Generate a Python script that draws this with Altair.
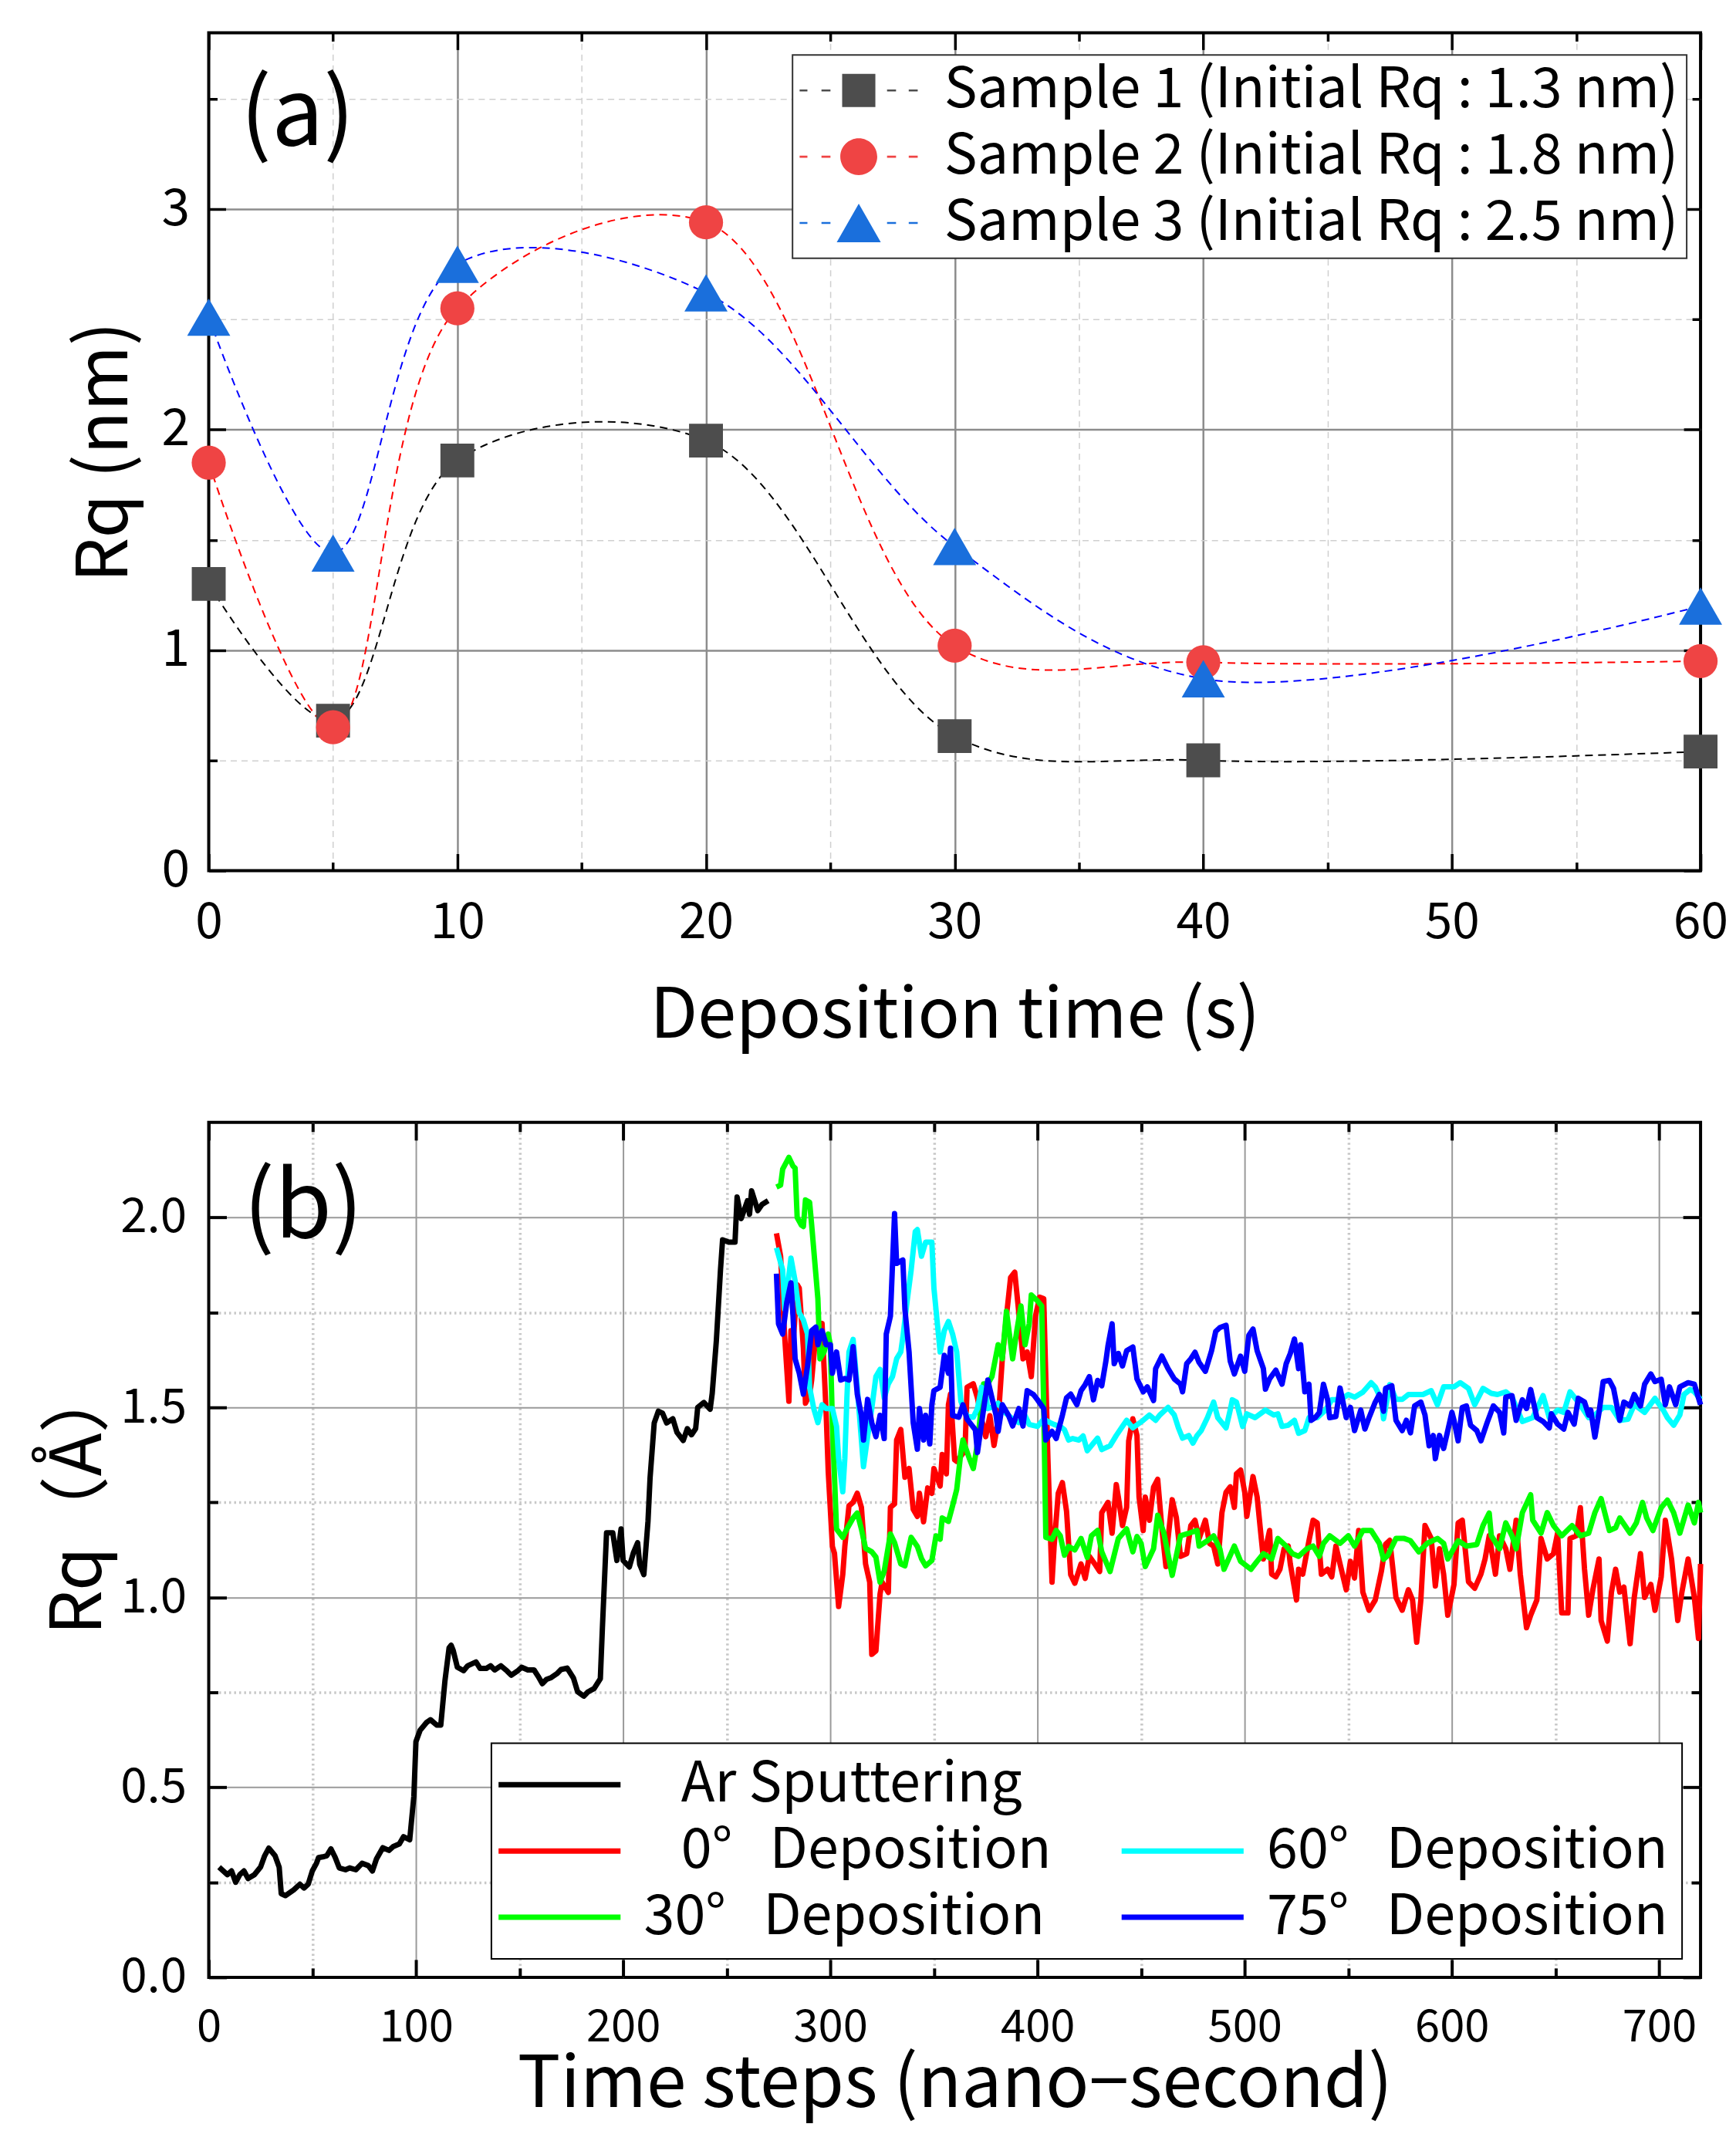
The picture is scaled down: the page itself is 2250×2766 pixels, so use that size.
import altair as alt
import pandas as pd

FONT = "Noto Sans CJK JP"

# ===================== Panel (a) data =====================
deposition_time = [0, 5, 10, 20, 30, 40, 60]
rq_sample1 = [1.30, 0.68, 1.86, 1.95, 0.61, 0.50, 0.54]
rq_sample2 = [1.85, 0.65, 2.55, 2.94, 1.02, 0.945, 0.95]
rq_sample3 = [2.51, 1.44, 2.75, 2.62, 1.47, 0.87, 1.20]
sample_names = [
    "Sample 1 (Initial Rq : 1.3 nm)",
    "Sample 2 (Initial Rq : 1.8 nm)",
    "Sample 3 (Initial Rq : 2.5 nm)",
]
line_colors_a = ["#000000", "#ff0000", "#0000ff"]
marker_colors_a = ["#4d4d4d", "#ef4444", "#1a6fdc"]
marker_shapes_a = ["square", "circle", "triangle-up"]
marker_sizes_a = [1936, 1963, 3136]

x_major_a = [0, 10, 20, 30, 40, 50, 60]
x_minor_a = [5, 15, 25, 35, 45, 55]
y_major_a = [0, 1, 2, 3]
y_minor_a = [0.5, 1.5, 2.5, 3.5]

# ===================== Panel (b) data =====================
ar_sputtering = [(5,0.29),(9,0.27),(11,0.28),(13,0.25),(15,0.27),(17,0.28),(19,0.26),(22,0.27),(25,0.29),(27,0.32),
    (29,0.34),(32,0.32),(34,0.29),(35,0.22),(37,0.215),(41,0.23),(44,0.245),(46,0.235),(48,0.245),(50,0.28),
    (52,0.30),(53,0.315),(55,0.317),(57,0.32),(59,0.338),(61,0.316),(63,0.288),(66,0.283),(68,0.288),(71,0.283),
    (74,0.30),(77,0.294),(79,0.28),(81,0.312),(84,0.341),(87,0.334),(89,0.344),(92,0.351),(94,0.37),(97,0.362),
    (99,0.476),(100,0.62),(102,0.65),(105,0.67),(107,0.678),(110,0.664),(112,0.664),(114,0.78),(116,0.867),(117,0.874),
    (118,0.86),(120,0.816),(123,0.807),(125,0.82),(129,0.83),(131,0.813),(134,0.813),(136,0.82),(138,0.809),(141,0.82),
    (144,0.806),(146,0.795),(149,0.806),(151,0.816),(154,0.809),(157,0.809),(159,0.792),(161,0.773),(163,0.784),(165,0.788),
    (168,0.799),(170,0.81),(173,0.814),(176,0.788),(178,0.752),(181,0.74),(183,0.751),(186,0.76),(189,0.786),(190,0.92),
    (192,1.17),(195,1.17),(197,1.097),(199,1.18),(200,1.097),(203,1.08),(205,1.118),(207,1.144),(208,1.087),(210,1.06),
    (212,1.2),(213,1.314),(215,1.459),(217,1.49),(219,1.485),(221,1.459),(224,1.47),(226,1.434),(229,1.413),(231,1.444),
    (233,1.428),(235,1.444),(236,1.5),(239,1.513),(242,1.495),(243,1.537),(245,1.676),(247,1.863),(248,1.941),(251,1.935),
    (254,1.935),(255,2.054),(257,1.997),(260,2.044),(261,2.008),(262,2.07),(265,2.018),(267,2.034),(270,2.044)]

dep_0deg = [(274,1.958),(276,1.898),(278,1.684),(280,1.516),(281,1.702),(282,1.665),(284,1.823),(285,1.814),(287,1.656),(288,1.511),
    (290,1.534),(291,1.572),(293,1.693),(294,1.656),(296,1.721),(298,1.483),(299,1.33),(301,1.134),(302,1.116),(304,0.976),
    (306,1.06),(307,1.134),(309,1.241),(311,1.25),(313,1.274),(315,1.237),(317,1.088),(319,1.04),(320,0.85),(322,0.859),
    (324,1.009),(325,1.04),(328,1.013),(329,1.237),(331,1.246),(332,1.414),(334,1.442),(336,1.316),(338,1.339),(340,1.232),
    (342,1.213),(343,1.274),(345,1.199),(347,1.288),(349,1.274),(350,1.339),(353,1.293),(354,1.376),(356,1.325),(357,1.507),
    (358,1.535),(360,1.362),(361,1.358),(365,1.386),(366,1.553),(369,1.562),(371,1.525),(373,1.469),(375,1.423),(377,1.478),
    (379,1.4),(381,1.465),(383,1.628),(385,1.74),(387,1.842),(389,1.856),(391,1.748),(393,1.628),(395,1.646),(397,1.581),
    (399,1.74),(401,1.79),(403,1.786),(405,1.367),(407,1.04),(408,1.134),(410,1.274),(412,1.302),(414,1.227),(416,1.06),
    (418,1.037),(421,1.088),(423,1.05),(425,1.108),(428,1.085),(430,1.068),(431,1.223),(434,1.25),(436,1.169),(438,1.297),
    (439,1.264),(441,1.189),(443,1.237),(444,1.412),(446,1.47),(448,1.426),(449,1.264),(451,1.176),(452,1.264),(454,1.203),
    (456,1.29),(458,1.311),(460,1.182),(462,1.081),(463,1.155),(465,1.257),(467,1.21),(469,1.108),(472,1.115),(474,1.189),
    (476,1.203),(478,1.155),(481,1.203),(483,1.142),(485,1.135),(487,1.088),(489,1.223),(491,1.277),(493,1.291),(495,1.237),
    (496,1.325),(498,1.335),(500,1.277),(501,1.213),(504,1.318),(506,1.264),(508,1.155),(509,1.101),(512,1.176),(513,1.061),
    (515,1.054),(517,1.074),(519,1.128),(521,1.135),(522,1.088),(525,0.993),(526,1.074),(528,1.061),(531,1.149),(533,1.203),
    (535,1.196),(537,1.061),(540,1.074),(542,1.054),(544,1.135),(546,1.088),(549,1.02),(551,1.095),(553,1.051),(555,1.176),
    (557,1.014),(560,0.966),(563,0.993),(566,1.07),(568,1.14),(570,1.15),(573,1.0),(576,0.966),(579,1.02),(581,0.993),
    (583,0.882),(585,0.993),(587,1.189),(590,1.155),(592,1.03),(594,1.128),(596,1.061),(598,0.953),(601,1.034),(603,1.196),
    (605,1.203),(608,1.041),(611,1.024),(614,1.061),(616,1.101),(618,1.162),(621,1.061),(623,1.162),(626,1.128),(628,1.074),
    (631,1.203),(633,1.061),(636,0.92),(638,0.953),(641,0.993),(643,1.155),(646,1.101),(649,1.115),(651,1.169),(653,0.959),
    (656,0.959),(657,1.155),(660,1.162),(662,1.236),(664,1.074),(666,0.953),(668,1.02),(671,1.101),(672,0.939),(675,0.885),
    (677,1.014),(679,1.074),(681,1.014),(683,1.027),(686,0.878),(688,1.0),(691,1.115),(693,1.0),(696,1.034),(698,0.966),
    (701,1.054),(703,1.203),(706,1.101),(709,0.939),(711,1.014),(714,1.101),(717,1.0),(719,0.892),(720,1.088)]

dep_30deg = [(274,2.08),(276,2.085),(277,2.127),(280,2.158),(282,2.135),(283,2.13),(284,2.0),(286,1.98),(287,1.976),(288,2.046),
    (290,2.04),(291,1.98),(293,1.851),(294,1.786),(295,1.628),(297,1.646),(299,1.693),(300,1.665),(301,1.46),(303,1.18),
    (306,1.158),(308,1.18),(311,1.209),(313,1.222),(315,1.18),(317,1.129),(320,1.12),(322,1.106),(324,1.04),(326,1.069),
    (329,1.167),(331,1.144),(334,1.088),(336,1.083),(339,1.158),(342,1.134),(344,1.102),(346,1.083),(349,1.097),(351,1.162),
    (353,1.153),(354,1.209),(357,1.2),(359,1.241),(361,1.284),(363,1.381),(364,1.414),(367,1.367),(369,1.339),(371,1.404),
    (374,1.562),(376,1.562),(378,1.581),(381,1.665),(383,1.628),(385,1.753),(388,1.628),(390,1.702),(392,1.767),(394,1.665),
    (396,1.72),(397,1.796),(400,1.78),(402,1.767),(403,1.5),(404,1.158),(407,1.153),(409,1.176),(411,1.162),(413,1.111),
    (415,1.134),(418,1.125),(421,1.155),(424,1.105),(426,1.162),(429,1.176),(431,1.12),(435,1.068),(439,1.155),(443,1.18),
    (446,1.12),(448,1.16),(450,1.142),(452,1.081),(456,1.128),(458,1.216),(461,1.169),(465,1.058),(469,1.162),(473,1.169),
    (477,1.176),(478,1.135),(482,1.149),(485,1.162),(488,1.128),(490,1.074),(495,1.135),(498,1.095),(503,1.074),(506,1.095),
    (509,1.115),(513,1.101),(516,1.155),(520,1.135),(523,1.115),(526,1.108),(530,1.128),(533,1.135),(536,1.108),(538,1.142),
    (541,1.162),(546,1.142),(550,1.162),(553,1.135),(557,1.176),(561,1.176),(565,1.142),(567,1.1),(569,1.11),(573,1.155),
    (577,1.155),(580,1.149),(584,1.12),(588,1.142),(593,1.155),(596,1.142),(598,1.101),(603,1.149),(607,1.135),(612,1.139),
    (615,1.189),(618,1.222),(619,1.162),(623,1.128),(626,1.196),(629,1.162),(631,1.128),(634,1.223),(638,1.27),(639,1.203),
    (643,1.169),(646,1.223),(649,1.189),(653,1.162),(658,1.189),(662,1.162),(666,1.169),(669,1.223),(672,1.26),(676,1.176),
    (679,1.183),(681,1.209),(686,1.169),(689,1.196),(692,1.25),(694,1.209),(697,1.176),(701,1.236),(704,1.256),(707,1.223),
    (710,1.169),(714,1.243),(717,1.196),(719,1.25),(720,1.223)]

dep_60deg = [(274,1.92),(277,1.862),(278,1.758),(281,1.893),(283,1.833),(285,1.749),(287,1.73),(289,1.693),(290,1.553),(292,1.497),
    (294,1.46),(296,1.507),(298,1.497),(301,1.497),(303,1.45),(304,1.366),(306,1.278),(307,1.366),(308,1.525),(309,1.646),
    (311,1.679),(313,1.553),(315,1.414),(316,1.344),(318,1.423),(320,1.497),(322,1.581),(324,1.6),(326,1.525),(328,1.562),
    (330,1.581),(332,1.628),(334,1.646),(335,1.684),(337,1.777),(339,1.861),(341,1.963),(342,1.968),(344,1.898),(346,1.935),
    (349,1.935),(350,1.814),(352,1.702),(353,1.646),(355,1.702),(357,1.726),(359,1.693),(361,1.646),(363,1.516),(365,1.488),
    (366,1.478),(369,1.474),(371,1.497),(373,1.553),(375,1.534),(376,1.497),(379,1.502),(381,1.511),(384,1.488),(388,1.469),
    (391,1.46),(394,1.478),(396,1.455),(400,1.45),(403,1.469),(406,1.46),(408,1.455),(411,1.45),(413,1.441),(415,1.414),
    (417,1.418),(420,1.414),(422,1.425),(424,1.386),(427,1.406),(429,1.419),(431,1.389),(435,1.399),(438,1.426),(441,1.45),
    (443,1.466),(446,1.446),(451,1.466),(454,1.48),(457,1.466),(459,1.48),(463,1.5),(466,1.48),(468,1.446),(470,1.419),
    (473,1.426),(475,1.406),(477,1.426),(479,1.439),(482,1.473),(485,1.514),(487,1.473),(491,1.446),(493,1.493),(494,1.52),
    (496,1.514),(499,1.45),(501,1.483),(505,1.473),(510,1.493),(514,1.48),(516,1.483),(518,1.45),(521,1.453),(524,1.466),
    (526,1.432),(529,1.439),(531,1.473),(535,1.473),(539,1.493),(542,1.52),(546,1.52),(550,1.534),(553,1.527),(557,1.54),
    (561,1.565),(563,1.554),(566,1.52),(567,1.47),(570,1.56),(573,1.521),(576,1.521),(579,1.534),(583,1.534),(586,1.534),
    (590,1.544),(593,1.507),(596,1.554),(601,1.554),(604,1.565),(608,1.55),(611,1.507),(615,1.55),(619,1.537),(622,1.534),
    (626,1.541),(629,1.527),(634,1.463),(639,1.473),(644,1.531),(647,1.473),(651,1.493),(654,1.487),(657,1.541),(661,1.514),
    (666,1.473),(669,1.48),(673,1.5),(677,1.5),(681,1.466),(685,1.469),(688,1.507),(693,1.487),(698,1.524),(702,1.493),
    (704,1.473),(707,1.453),(710,1.48),(712,1.534),(715,1.547),(717,1.541),(720,1.521)]

dep_75deg = [(274,1.852),(275,1.72),(277,1.693),(279,1.777),(281,1.828),(282,1.74),(283,1.628),(285,1.59),(287,1.535),(289,1.609),
    (291,1.702),(293,1.711),(294,1.665),(296,1.702),(298,1.665),(300,1.665),(301,1.59),(303,1.646),(305,1.572),(307,1.576),
    (309,1.572),(311,1.66),(313,1.535),(315,1.479),(316,1.414),(318,1.521),(320,1.46),(322,1.423),(324,1.479),(326,1.418),
    (327,1.693),(329,1.74),(331,2.01),(332,1.879),(335,1.888),(336,1.758),(338,1.646),(340,1.46),(342,1.39),(343,1.497),
    (345,1.414),(346,1.479),(348,1.404),(349,1.507),(350,1.544),(353,1.553),(355,1.637),(357,1.59),(358,1.656),(359,1.479),
    (362,1.474),(364,1.507),(366,1.469),(368,1.455),(370,1.441),(371,1.381),(374,1.497),(376,1.572),(378,1.525),(380,1.479),
    (381,1.437),(383,1.507),(386,1.479),(388,1.451),(391,1.497),(393,1.451),(395,1.544),(398,1.534),(400,1.52),(403,1.497),
    (404,1.414),(407,1.437),(409,1.418),(412,1.479),(414,1.525),(416,1.535),(419,1.507),(421,1.544),(423,1.56),(425,1.581),
    (427,1.52),(429,1.571),(431,1.557),(433,1.622),(434,1.662),(436,1.72),(437,1.615),(439,1.642),(441,1.609),(443,1.649),
    (446,1.659),(448,1.575),(451,1.541),(453,1.554),(456,1.518),(457,1.602),(460,1.635),(463,1.602),(466,1.575),(469,1.561),
    (470,1.541),(472,1.615),(474,1.628),(476,1.645),(478,1.618),(481,1.595),(484,1.649),(486,1.7),(488,1.71),(491,1.716),
    (493,1.622),(495,1.588),(498,1.635),(500,1.595),(502,1.69),(504,1.706),(506,1.649),(509,1.602),(510,1.548),(512,1.575),
    (515,1.598),(518,1.561),(520,1.615),(522,1.642),(524,1.68),(526,1.602),(527,1.665),(529,1.541),(531,1.561),(532,1.466),
    (534,1.473),(536,1.486),(538,1.561),(540,1.52),(541,1.473),(544,1.476),(546,1.551),(549,1.473),(551,1.5),(553,1.439),
    (556,1.493),(558,1.443),(560,1.473),(563,1.514),(565,1.534),(567,1.49),(568,1.55),(571,1.557),(573,1.466),(576,1.439),
    (578,1.466),(580,1.433),(582,1.504),(585,1.514),(587,1.48),(589,1.399),(591,1.426),(592,1.365),(594,1.426),(596,1.392),
    (598,1.439),(600,1.487),(601,1.466),(603,1.412),(605,1.5),(607,1.504),(609,1.453),(612,1.439),(614,1.412),(617,1.46),
    (620,1.504),(623,1.487),(625,1.433),(626,1.527),(629,1.531),(631,1.466),(634,1.52),(636,1.497),(638,1.547),(641,1.473),
    (644,1.463),(647,1.446),(648,1.483),(651,1.456),(654,1.443),(656,1.487),(659,1.456),(661,1.524),(664,1.514),(666,1.48),
    (667,1.493),(669,1.422),(671,1.487),(673,1.568),(676,1.571),(678,1.55),(681,1.466),(683,1.514),(686,1.504),(688,1.534),
    (691,1.504),(693,1.561),(696,1.588),(698,1.568),(701,1.574),(703,1.507),(705,1.554),(708,1.507),(710,1.554),(714,1.565),
    (717,1.561),(720,1.507)]

NB = "\u00a0"
ZW = "\u200b"  # keeps leading spaces from being trimmed
series_b = [
    (ZW + NB * 3 + "Ar Sputtering", ar_sputtering, "#000000"),
    (ZW + NB * 3 + "0°" + NB * 3 + "Deposition", dep_0deg, "#ff0000"),
    ("30°" + NB * 3 + "Deposition", dep_30deg, "#00ff00"),
    ("60°" + NB * 3 + "Deposition", dep_60deg, "#00ffff"),
    ("75°" + NB * 3 + "Deposition", dep_75deg, "#0000ff"),
]
blank_entry = ZW
# legend fills column by column (3 rows): Ar, 0°, 30° | blank, 60°, 75°
legend_order_b = [series_b[0][0], series_b[1][0], series_b[2][0], blank_entry, series_b[3][0], series_b[4][0]]
legend_colors_b = [series_b[0][2], series_b[1][2], series_b[2][2], "#ffffff", series_b[3][2], series_b[4][2]]

x_major_b = [0, 100, 200, 300, 400, 500, 600, 700]
x_minor_b = [50, 150, 250, 350, 450, 550, 650]
y_major_b = [0.0, 0.5, 1.0, 1.5, 2.0]
y_minor_b = [0.25, 0.75, 1.25, 1.75]

# ===================== tables =====================
df_a = pd.DataFrame(
    [{"series": n, "t": t, "rq": v}
     for n, vals in zip(sample_names, [rq_sample1, rq_sample2, rq_sample3])
     for t, v in zip(deposition_time, vals)]
)
df_b = pd.DataFrame(
    [{"series": n, "t": t, "rq": v} for n, pts, _ in series_b for t, v in pts]
)


def axis_spec(orient, values, tick_len, tick_w, grid=False, grid_color=None, grid_width=None,
              grid_dash=None, grid_hide=None, labels=False, label_size=None, label_pad=None,
              fmt=None, title=None, title_size=None, title_x=None, title_y=None):
    kw = dict(orient=orient, values=values, domain=False, ticks=True,
              tickSize={"expr": str(-tick_len)}, tickColor="black", tickWidth=tick_w,
              labels=labels, grid=grid, title=title)
    if grid:
        kw.update(gridColor=grid_color, gridWidth=grid_width)
        if grid_dash:
            kw["gridDash"] = grid_dash
        if grid_hide:
            kw["gridOpacity"] = {"condition": {"test": grid_hide, "value": 0}, "value": 1}
    if labels:
        kw.update(labelFont=FONT, labelFontSize=label_size, labelPadding=label_pad,
                  labelColor="black", labelFlush=False, labelOverlap=False)
        if fmt:
            kw["format"] = fmt
    if title:
        kw.update(titleFont=FONT, titleFontSize=title_size, titleFontWeight="normal",
                  titleColor="black", titleBaseline="middle", titleAlign="center")
        if title_x is not None:
            kw["titleX"] = title_x
        if title_y is not None:
            kw["titleY"] = title_y
    return alt.Axis(**kw)


# ===================== Panel (a) =====================
sx_a = alt.Scale(domain=[0, 60], nice=False, zero=False)
sy_a = alt.Scale(domain=[0, 3.8], nice=False, zero=False)
MAJ_A = dict(grid=True, grid_color="#8c8c8c", grid_width=2.5)
MIN_A = dict(grid=True, grid_color="#cfcfcf", grid_width=1.5, grid_dash=[8, 6])

axes_a = {
    "major": (axis_spec("bottom", x_major_a, 22, 3.5, grid_hide="datum.value <= 0 || datum.value >= 60",
                        labels=True, label_size=64, label_pad=58, title="Deposition time (s)",
                        title_size=90, title_y=189, **MAJ_A),
              axis_spec("left", y_major_a, 22, 3.5, grid_hide="datum.value <= 0",
                        labels=True, label_size=66, label_pad=47, title="Rq (nm)",
                        title_size=92, title_x=-134, **MAJ_A)),
    "minor": (axis_spec("bottom", x_minor_a, 11, 3.5, **MIN_A),
              axis_spec("left", y_minor_a, 11, 3.5, **MIN_A)),
    "top_major": (axis_spec("top", x_major_a, 22, 3.5), axis_spec("right", y_major_a, 22, 3.5)),
    "top_minor": (axis_spec("top", x_minor_a, 11, 3.5), axis_spec("right", y_minor_a, 11, 3.5)),
}


def enc_xy(sx, sy, axes=None):
    ax_x, ax_y = axes if axes else (None, None)
    return dict(x=alt.X("t:Q", scale=sx, axis=ax_x), y=alt.Y("rq:Q", scale=sy, axis=ax_y))


layers_a = []
for i, (name, lc) in enumerate(zip(sample_names, line_colors_a)):
    layers_a.append(
        alt.Chart(df_a).transform_filter(alt.datum.series == name)
        .mark_line(interpolate="catmull-rom", color=lc, strokeWidth=2, strokeDash=[10, 7])
        .encode(**enc_xy(sx_a, sy_a, axes_a["major"] if i == 0 else None))
    )
for i, (name, mc, shp, sz) in enumerate(zip(sample_names, marker_colors_a, marker_shapes_a, marker_sizes_a)):
    layers_a.append(
        alt.Chart(df_a).transform_filter(alt.datum.series == name)
        .mark_point(filled=True, shape=shp, size=sz, color=mc, opacity=1, strokeWidth=0)
        .encode(**enc_xy(sx_a, sy_a, axes_a["minor"] if i == 0 else None))
    )
layers_a.append(
    alt.Chart(df_a).transform_filter("false").mark_point(opacity=0)
    .encode(**enc_xy(sx_a, sy_a, axes_a["top_major"]))
)

# legend symbols: dashed line segments + marker
dashes = ("M-3.49,-0.06 L-3.03,-0.06 L-3.03,0.06 L-3.49,0.06 Z "
          "M-2.2,-0.06 L-1.67,-0.06 L-1.67,0.06 L-2.2,0.06 Z "
          "M1.67,-0.06 L2.2,-0.06 L2.2,0.06 L1.67,0.06 Z "
          "M2.95,-0.06 L3.48,-0.06 L3.48,0.06 L2.95,0.06 Z ")
legend_paths_a = [
    dashes + "M-0.98,-0.98 L0.98,-0.98 L0.98,0.98 L-0.98,0.98 Z",
    dashes + "M1.09,0 A1.09,1.09 0 1,1 -1.09,0 A1.09,1.09 0 1,1 1.09,0 Z",
    dashes + "M0,-1.14 L1.3,1.14 L-1.3,1.14 Z",
]
legend_a = alt.Legend(title=None, orient="none", legendX=758, legendY=29, symbolSize=1936,
                      symbolOffset=40, labelOffset=75, labelFont=FONT, labelFontSize=72,
                      labelColor="black", labelLimit=3000, rowPadding=14, padding=10,
                      strokeColor="#333333", fillColor="white",
                      symbolStrokeWidth=0, symbolOpacity=1)
layers_a.append(
    alt.Chart(df_a).transform_filter("false").mark_point(filled=True, opacity=1, strokeWidth=0)
    .encode(
        **enc_xy(sx_a, sy_a, axes_a["top_minor"]),
        shape=alt.Shape("series:N", scale=alt.Scale(domain=sample_names, range=legend_paths_a), legend=legend_a),
        fill=alt.Fill("series:N", scale=alt.Scale(domain=sample_names, range=marker_colors_a), legend=legend_a),
    )
)
layers_a.append(
    alt.Chart(pd.DataFrame({"label": ["(a)"]}))
    .mark_text(align="left", baseline="middle", font=FONT, fontSize=120, color="black")
    .encode(x=alt.value(41), y=alt.value(110), text="label:N")
)
panel_a = alt.layer(*layers_a).resolve_axis(x="independent", y="independent").properties(width=1937, height=1088)

# ===================== Panel (b) =====================
sx_b = alt.Scale(domain=[0, 720], nice=False, zero=False)
sy_b = alt.Scale(domain=[0, 2.25], nice=False, zero=False)
MAJ_B = dict(grid=True, grid_color="#9a9a9a", grid_width=2)
MIN_B = dict(grid=True, grid_color="#c8c8c8", grid_width=3.5, grid_dash=[2.5, 4])

axes_b = [
    (axis_spec("bottom", x_major_b, 23, 4, grid_hide="datum.value <= 0", labels=True, label_size=58,
               label_pad=60, title="Time steps (nano−second)", title_size=93, title_y=140, **MAJ_B),
     axis_spec("left", y_major_b, 23, 4, grid_hide="datum.value <= 0", labels=True, label_size=62,
               label_pad=52, fmt=".1f", title="Rq（Å）", title_size=92, title_x=-168, title_y=488, **MAJ_B)),
    (axis_spec("bottom", x_minor_b, 12, 4, **MIN_B), axis_spec("left", y_minor_b, 12, 4, **MIN_B)),
    (axis_spec("top", x_major_b, 23, 4), axis_spec("right", y_major_b, 23, 4)),
    (axis_spec("top", x_minor_b, 12, 4), axis_spec("right", y_minor_b, 12, 4)),
    None,
]
# panel (b) legend lives in top-level coordinates (origin = panel a plot origin)
PANEL_B_TOP = 1088 + 327
legend_b = alt.Legend(title=None, orient="none", legendX=367, legendY=PANEL_B_TOP + 806, columns=2,
                      symbolType="M-3.6,0 L3.6,0", symbolSize=1936, symbolStrokeWidth=7,
                      symbolOffset=34.5, labelOffset=73.5, labelFont=FONT, labelFontSize=72,
                      labelColor="black", labelLimit=3000, rowPadding=14, columnPadding=76,
                      padding=18, strokeColor="black", fillColor="white")
color_b = alt.Color("series:N", scale=alt.Scale(domain=legend_order_b, range=legend_colors_b), legend=legend_b)

layers_b = []
for (name, _, _), ax in zip(series_b, axes_b):
    layers_b.append(
        alt.Chart(df_b).transform_filter(alt.datum.series == name)
        .mark_line(strokeWidth=7, strokeJoin="round", opacity=1)
        .encode(**enc_xy(sx_b, sy_b, ax), color=color_b)
    )
layers_b.append(
    alt.Chart(pd.DataFrame({"label": ["(b)"]}))
    .mark_text(align="left", baseline="middle", font=FONT, fontSize=120, color="black")
    .encode(x=alt.value(45), y=alt.value(113), text="label:N")
)
panel_b = alt.layer(*layers_b).resolve_axis(x="independent", y="independent").properties(width=1937, height=1110)

chart = (
    alt.vconcat(panel_a, panel_b, spacing=327, bounds="flush")
    .properties(padding={"left": 47, "top": 28, "right": 0, "bottom": 0}, background="white")
    .configure(font=FONT)
    .configure_view(stroke="black", strokeWidth=4)
    .configure_legend(strokeWidth=2)
)
chart.save("out.html", embed_options={"renderer": "svg", "actions": False})
